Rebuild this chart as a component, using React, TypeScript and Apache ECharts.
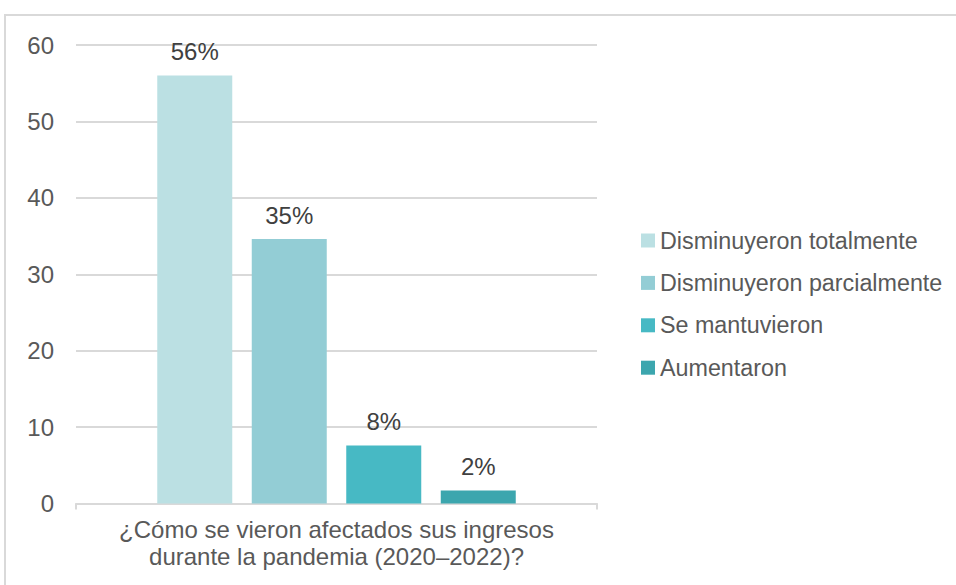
import React, { useEffect, useRef } from "react";
import * as echarts from "echarts";

const categories = ["¿Cómo se vieron afectados sus ingresos\ndurante la pandemia (2020–2022)?"];
const seriesNames = ["Disminuyeron totalmente", "Disminuyeron parcialmente", "Se mantuvieron", "Aumentaron"];
const seriesValues = [56, 34.6, 7.6, 1.7];
const seriesLabels = ["56%", "35%", "8%", "2%"];
const seriesColors = ["#BBE0E3", "#93CDD5", "#47B9C4", "#3CA6AE"];
const yTicks = { min: 0, max: 60, interval: 10 };

const FONT = "'Liberation Sans', Arial, sans-serif";

export default function App() {
  const ref = useRef<HTMLDivElement>(null);
  useEffect(() => {
    if (!ref.current) return;
    const chart = echarts.init(ref.current, null, { renderer: "svg" });
    chart.setOption({
      animation: false,
      backgroundColor: "#ffffff",
      textStyle: { fontFamily: FONT },
      graphic: [
        {
          type: "rect",
          shape: { x: 5, y: 15, width: 1000, height: 620 },
          style: { fill: "none", stroke: "#d9d9d9", lineWidth: 2 },
          silent: true,
          z: -1,
        },
      ],
      grid: { left: 76, right: 359, top: 45, bottom: 81.5, containLabel: false },
      legend: {
        orient: "vertical",
        left: 636,
        top: 224,
        itemWidth: 14,
        itemHeight: 14,
        itemGap: 19.4,
        icon: "rect",
        textStyle: { fontSize: 23.3, color: "#595959", fontFamily: FONT },
        data: seriesNames,
      },
      xAxis: {
        type: "category",
        data: categories,
        axisLine: { show: true, lineStyle: { color: "#d9d9d9", width: 2 } },
        axisTick: { show: true, length: 6, lineStyle: { color: "#d9d9d9", width: 2 } },
        axisLabel: {
          fontSize: 24,
          color: "#595959",
          fontFamily: FONT,
          margin: 12,
          lineHeight: 27,
          align: "center",
        },
      },
      yAxis: {
        type: "value",
        min: yTicks.min,
        max: yTicks.max,
        interval: yTicks.interval,
        axisLine: { show: false },
        axisTick: { show: false },
        axisLabel: { fontSize: 24, color: "#595959", fontFamily: FONT, margin: 22 },
        splitLine: { lineStyle: { color: "#d9d9d9", width: 2 } },
      },
      series: seriesNames.map((name, i) => ({
        name,
        type: "bar",
        barWidth: 75,
        barGap: "26%",
        itemStyle: { color: seriesColors[i] },
        label: {
          show: true,
          position: "top",
          distance: 12,
          fontSize: 24,
          color: "#404040",
          fontFamily: FONT,
          formatter: () => seriesLabels[i],
        },
        data: [seriesValues[i]],
      })),
    });
    return () => chart.dispose();
  }, []);
  return (
    <div
      ref={ref}
      style={{ position: "absolute", left: 0, top: 0, width: 956, height: 585 }}
    />
  );
}
